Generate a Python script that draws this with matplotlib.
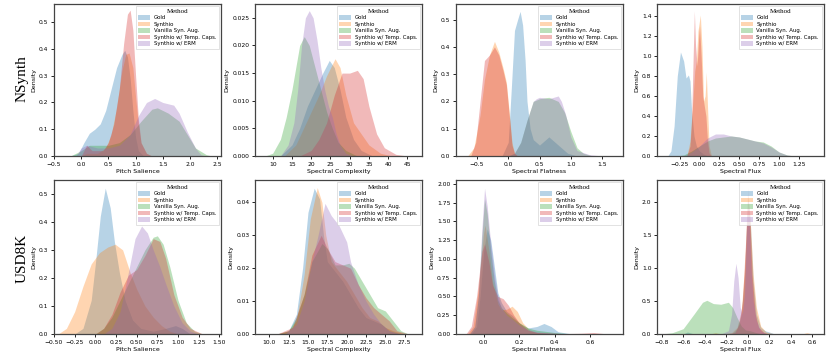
#!/usr/bin/env python3
# -*- coding: utf-8 -*-
"""
KDE density comparison: NSynth / USD8K, four audio features, five methods.
Output: out.png (831x355)
"""

import matplotlib
matplotlib.use("Agg")
import matplotlib.pyplot as plt

METHODS = ["Gold", "Synthio", "Vanilla Syn. Aug.", "Synthio w/ Temp. Caps.", "Synthio w/ ERM"]
COLORS = ["#1f77b4", "#ff7f0e", "#2ca02c", "#d62728", "#9467bd"]
ROW_LABELS = ["NSynth", "USD8K"]
FEATURES = ["Pitch Salience", "Spectral Complexity", "Spectral Flatness", "Spectral Flux"]

# ---- density curves, (x, density) ----
# NSynth / Pitch Salience
NS_PS_GOLD = [(-0.2, 0), (-0.05, 0.01), (0.05, 0.05), (0.15, 0.085), (0.25, 0.10), (0.35, 0.12), (0.45, 0.17),
              (0.55, 0.25), (0.65, 0.33), (0.75, 0.38), (0.8, 0.395), (0.85, 0.37), (0.9, 0.29), (0.95, 0.17),
              (1.0, 0.07), (1.05, 0.02), (1.15, 0)]
NS_PS_SYN = [(0.0, 0), (0.1, 0.01), (0.3, 0.01), (0.45, 0.03), (0.55, 0.08), (0.65, 0.18), (0.75, 0.32),
             (0.82, 0.38), (0.88, 0.385), (0.95, 0.33), (1.0, 0.22), (1.05, 0.12), (1.1, 0.05), (1.2, 0.01), (1.3, 0)]
NS_PS_VAN = [(-0.2, 0), (0.0, 0.02), (0.15, 0.04), (0.3, 0.04), (0.5, 0.04), (0.7, 0.05), (0.9, 0.08),
             (1.1, 0.13), (1.3, 0.175), (1.4, 0.18), (1.6, 0.16), (1.8, 0.13), (1.95, 0.08), (2.1, 0.03),
             (2.3, 0.005), (2.4, 0)]
NS_PS_TMP = [(0.0, 0), (0.1, 0.04), (0.2, 0.02), (0.4, 0.02), (0.5, 0.05), (0.6, 0.12), (0.7, 0.25),
             (0.78, 0.42), (0.85, 0.53), (0.9, 0.545), (0.95, 0.47), (1.0, 0.3), (1.05, 0.14), (1.1, 0.05),
             (1.2, 0.01), (1.3, 0)]
NS_PS_ERM = [(-0.1, 0), (0.0, 0.03), (0.1, 0.04), (0.3, 0.03), (0.5, 0.03), (0.7, 0.04), (0.9, 0.08),
             (1.05, 0.15), (1.2, 0.2), (1.35, 0.215), (1.5, 0.2), (1.7, 0.19), (1.8, 0.16), (1.95, 0.09),
             (2.1, 0.03), (2.2, 0.005), (2.3, 0)]

# NSynth / Spectral Complexity
NS_SC_GOLD = [(12, 0), (15, 0.002), (17, 0.005), (19, 0.009), (21, 0.012), (23, 0.015), (24.7, 0.0173),
              (26, 0.016), (27.5, 0.012), (29, 0.007), (31, 0.003), (33, 0.001), (36, 0)]
NS_SC_SYN = [(13, 0), (16, 0.002), (18, 0.005), (20, 0.008), (22, 0.011), (24, 0.0145), (26.2, 0.0176),
             (27.5, 0.016), (29, 0.011), (31, 0.006), (33, 0.004), (35, 0.002), (38, 0.0005), (41, 0)]
NS_SC_VAN = [(8, 0), (10, 0.0005), (12, 0.003), (13.5, 0.007), (15, 0.012), (16, 0.016), (17, 0.02),
             (18.2, 0.0216), (19.5, 0.02), (21, 0.016), (22.5, 0.012), (24, 0.008), (25.5, 0.005),
             (27, 0.0025), (29, 0.001), (32, 0)]
NS_SC_TMP = [(17, 0), (20, 0.001), (22, 0.003), (24, 0.006), (26, 0.011), (28, 0.015), (30, 0.015),
             (32, 0.0155), (33.5, 0.014), (35, 0.009), (37, 0.004), (39, 0.0015), (42, 0.0003), (45, 0)]
NS_SC_ERM = [(12, 0), (14, 0.002), (15.5, 0.006), (16.5, 0.012), (17.5, 0.02), (18.5, 0.025), (19.5, 0.0263),
             (20.5, 0.025), (21.5, 0.021), (22.5, 0.016), (23.5, 0.012), (24.5, 0.009), (25.5, 0.007),
             (26.5, 0.004), (27.5, 0.002), (29, 0.0005), (31, 0)]

# NSynth / Spectral Flatness
NS_SF_GOLD = [(-0.1, 0), (0.0, 0.05), (0.05, 0.25), (0.1, 0.46), (0.15, 0.5), (0.19, 0.53), (0.23, 0.48),
              (0.27, 0.35), (0.3, 0.2), (0.35, 0.1), (0.4, 0.06), (0.5, 0.04), (0.6, 0.06), (0.65, 0.07),
              (0.75, 0.05), (0.85, 0.03), (0.95, 0.01), (1.1, 0)]
NS_SF_SYN = [(-0.65, 0), (-0.55, 0.03), (-0.45, 0.15), (-0.38, 0.28), (-0.3, 0.37), (-0.22, 0.42),
             (-0.15, 0.38), (-0.08, 0.32), (-0.03, 0.27), (0.02, 0.15), (0.06, 0.05), (0.1, 0.01), (0.15, 0)]
NS_SF_VAN = [(0.0, 0), (0.1, 0.01), (0.2, 0.05), (0.3, 0.13), (0.4, 0.2), (0.5, 0.21), (0.65, 0.215),
             (0.8, 0.2), (0.9, 0.16), (1.0, 0.09), (1.1, 0.03), (1.2, 0.01), (1.35, 0)]
NS_SF_TMP = [(-0.6, 0), (-0.52, 0.05), (-0.45, 0.2), (-0.38, 0.35), (-0.3, 0.37), (-0.22, 0.40),
             (-0.15, 0.37), (-0.08, 0.31), (-0.03, 0.26), (0.02, 0.14), (0.06, 0.04), (0.1, 0.01), (0.15, 0)]
NS_SF_ERM = [(0.0, 0), (0.1, 0.01), (0.2, 0.05), (0.3, 0.13), (0.4, 0.2), (0.45, 0.21), (0.5, 0.215),
             (0.65, 0.21), (0.8, 0.22), (0.85, 0.2), (0.92, 0.15), (1.0, 0.07), (1.1, 0.02), (1.3, 0.005), (1.5, 0)]

# NSynth / Spectral Flux
NS_FX_GOLD = [(-0.4, 0), (-0.36, 0.05), (-0.32, 0.3), (-0.28, 0.8), (-0.24, 1.04), (-0.2, 0.95),
              (-0.17, 0.78), (-0.14, 0.81), (-0.12, 0.75), (-0.1, 0.45), (-0.07, 0.2), (-0.04, 0.1),
              (0.0, 0.05), (0.05, 0.02), (0.1, 0)]
NS_FX_SYN = [(-0.16, 0), (-0.12, 0.15), (-0.08, 0.6), (-0.06, 0.85), (-0.04, 0.95), (-0.02, 1.25),
             (0.01, 1.41), (0.03, 1.1), (0.05, 0.55), (0.07, 0.6), (0.085, 0.84), (0.1, 0.5), (0.12, 0.1), (0.15, 0)]
NS_FX_VAN = [(-0.3, 0), (-0.2, 0.01), (-0.1, 0.05), (0.0, 0.1), (0.1, 0.15), (0.2, 0.18), (0.3, 0.19),
             (0.4, 0.2), (0.5, 0.19), (0.6, 0.17), (0.7, 0.15), (0.8, 0.14), (0.9, 0.1), (1.0, 0.04),
             (1.1, 0.01), (1.2, 0)]
NS_FX_TMP = [(-0.16, 0), (-0.12, 0.1), (-0.1, 0.35), (-0.08, 1.0), (-0.065, 1.45), (-0.05, 1.1),
             (-0.03, 0.9), (-0.01, 1.2), (0.0, 1.3), (0.02, 1.0), (0.04, 0.6), (0.06, 0.5), (0.08, 0.4),
             (0.1, 0.15), (0.12, 0.03), (0.15, 0)]
NS_FX_ERM = [(-0.2, 0), (-0.1, 0.04), (0.0, 0.1), (0.1, 0.18), (0.2, 0.22), (0.3, 0.22), (0.4, 0.2),
             (0.5, 0.19), (0.6, 0.17), (0.7, 0.15), (0.8, 0.13), (0.9, 0.09), (1.0, 0.04), (1.1, 0.01), (1.2, 0)]

# USD8K / Pitch Salience
US_PS_GOLD = [(-0.25, 0), (-0.15, 0.02), (-0.05, 0.12), (0.0, 0.25), (0.06, 0.42), (0.12, 0.52),
              (0.18, 0.45), (0.23, 0.33), (0.29, 0.22), (0.36, 0.12), (0.45, 0.05), (0.55, 0.02),
              (0.7, 0.01), (0.85, 0.02), (0.97, 0.03), (1.05, 0.02), (1.15, 0)]
US_PS_SYN = [(-0.45, 0), (-0.35, 0.02), (-0.25, 0.08), (-0.15, 0.17), (-0.05, 0.25), (0.05, 0.29),
             (0.15, 0.31), (0.24, 0.32), (0.33, 0.3), (0.42, 0.22), (0.5, 0.16), (0.6, 0.1), (0.7, 0.06),
             (0.8, 0.03), (0.9, 0.01), (1.0, 0)]
US_PS_VAN = [(0.0, 0), (0.1, 0.02), (0.2, 0.06), (0.3, 0.12), (0.4, 0.18), (0.5, 0.24), (0.6, 0.3),
             (0.7, 0.345), (0.75, 0.35), (0.82, 0.32), (0.9, 0.24), (1.0, 0.12), (1.1, 0.04), (1.2, 0.01), (1.3, 0)]
US_PS_TMP = [(0.0, 0), (0.1, 0.02), (0.2, 0.07), (0.3, 0.15), (0.4, 0.21), (0.5, 0.23), (0.6, 0.28),
             (0.7, 0.34), (0.78, 0.33), (0.85, 0.27), (0.95, 0.14), (1.05, 0.06), (1.15, 0.02), (1.3, 0)]
US_PS_ERM = [(0.1, 0), (0.2, 0.02), (0.3, 0.08), (0.4, 0.22), (0.48, 0.34), (0.56, 0.385), (0.63, 0.36),
             (0.7, 0.3), (0.78, 0.24), (0.85, 0.18), (0.95, 0.1), (1.05, 0.04), (1.15, 0.01), (1.25, 0)]

# USD8K / Spectral Complexity
US_SC_GOLD = [(11, 0), (12.5, 0.001), (13.5, 0.006), (14.3, 0.02), (15, 0.037), (15.8, 0.0443),
              (16.5, 0.041), (17, 0.03), (17.5, 0.022), (18.5, 0.019), (19.5, 0.016), (20.5, 0.012),
              (21.5, 0.008), (22.5, 0.005), (23.5, 0.004), (24.5, 0.003), (25.5, 0.001), (27, 0)]
US_SC_SYN = [(11, 0), (12.5, 0.001), (13.5, 0.004), (14.5, 0.018), (15.3, 0.035), (16.2, 0.0445),
             (16.8, 0.04), (17.3, 0.03), (18, 0.022), (19, 0.019), (20, 0.016), (21, 0.012), (22, 0.008),
             (23, 0.005), (24, 0.004), (25, 0.002), (26, 0.001), (27.5, 0)]
US_SC_VAN = [(11, 0), (12.5, 0.001), (13.5, 0.005), (14.5, 0.012), (15.5, 0.022), (16.8, 0.0275),
             (17.5, 0.026), (18.5, 0.021), (19.5, 0.021), (20.3, 0.0215), (21, 0.02), (22, 0.016),
             (23, 0.012), (24, 0.008), (25, 0.007), (26, 0.004), (27, 0.001), (28, 0)]
US_SC_TMP = [(11, 0), (13, 0.002), (14.5, 0.012), (15.5, 0.024), (16.7, 0.03), (17.5, 0.026),
             (18.5, 0.022), (19.5, 0.021), (20.5, 0.02), (21.5, 0.015), (22.5, 0.011), (23.5, 0.008),
             (24.5, 0.006), (25.5, 0.004), (26.5, 0.001), (28, 0)]
US_SC_ERM = [(12, 0), (13.5, 0.003), (14.5, 0.01), (15.5, 0.022), (16.3, 0.03), (17.2, 0.0397),
             (18, 0.036), (19, 0.033), (20, 0.028), (20.5, 0.022), (21.5, 0.015), (22.5, 0.01),
             (23.5, 0.006), (24.5, 0.003), (25.5, 0.001), (27, 0)]

# USD8K / Spectral Flatness
US_SF_GOLD = [(-0.07, 0), (-0.04, 0.1), (-0.02, 0.5), (0.0, 1.1), (0.02, 1.4), (0.04, 1.25), (0.06, 0.9),
              (0.08, 0.55), (0.1, 0.42), (0.13, 0.3), (0.16, 0.25), (0.2, 0.15), (0.25, 0.08), (0.3, 0.1),
              (0.34, 0.14), (0.38, 0.1), (0.42, 0.03), (0.5, 0)]
US_SF_SYN = [(-0.09, 0), (-0.06, 0.1), (-0.03, 0.6), (0.0, 1.35), (0.008, 1.45), (0.03, 1.1), (0.05, 0.7),
             (0.08, 0.4), (0.1, 0.32), (0.13, 0.33), (0.16, 0.37), (0.19, 0.3), (0.22, 0.15), (0.26, 0.05),
             (0.3, 0.02), (0.4, 0.005), (0.5, 0)]
US_SF_VAN = [(-0.08, 0), (-0.05, 0.1), (-0.03, 0.5), (-0.01, 1.3), (0.005, 1.8), (0.02, 1.6), (0.04, 1.1),
             (0.06, 0.7), (0.08, 0.45), (0.1, 0.35), (0.13, 0.28), (0.16, 0.22), (0.2, 0.15), (0.25, 0.08),
             (0.3, 0.05), (0.4, 0.02), (0.5, 0)]
US_SF_TMP = [(-0.1, 0), (-0.07, 0.1), (-0.04, 0.5), (-0.01, 1.1), (0.005, 1.2), (0.03, 0.95), (0.05, 0.65),
             (0.08, 0.5), (0.11, 0.47), (0.14, 0.38), (0.17, 0.25), (0.2, 0.15), (0.25, 0.05), (0.3, 0.02),
             (0.45, 0.005), (0.55, 0.01), (0.62, 0.02), (0.7, 0)]
US_SF_ERM = [(-0.08, 0), (-0.05, 0.1), (-0.03, 0.5), (-0.01, 1.4), (0.005, 1.94), (0.02, 1.7), (0.04, 1.2),
             (0.06, 0.8), (0.08, 0.5), (0.1, 0.35), (0.13, 0.25), (0.16, 0.2), (0.2, 0.12), (0.25, 0.06),
             (0.3, 0.03), (0.4, 0.01), (0.5, 0)]

# USD8K / Spectral Flux
US_FX_GOLD = [(-0.6, 0), (-0.56, 0.03), (-0.5, 0), (-0.15, 0), (-0.1, 0.08), (-0.06, 0.3), (-0.03, 0.9),
              (0.0, 2.1), (0.02, 1.8), (0.05, 0.8), (0.08, 0.3), (0.12, 0.1), (0.16, 0.05), (0.2, 0.03), (0.25, 0)]
US_FX_SYN = [(-0.35, 0), (-0.3, 0.02), (-0.25, 0), (-0.15, 0.02), (-0.1, 0.1), (-0.06, 0.35), (-0.03, 1.0),
             (0.0, 2.05), (0.02, 1.8), (0.05, 0.9), (0.08, 0.4), (0.12, 0.12), (0.17, 0.03), (0.25, 0),
             (0.5, 0), (0.55, 0.02), (0.6, 0)]
US_FX_VAN = [(-0.8, 0), (-0.7, 0.02), (-0.6, 0.08), (-0.5, 0.3), (-0.42, 0.48), (-0.38, 0.51),
             (-0.32, 0.46), (-0.25, 0.45), (-0.18, 0.48), (-0.14, 0.4), (-0.1, 0.25), (-0.06, 0.12),
             (-0.02, 0.06), (0.02, 0.05), (0.06, 0.03), (0.1, 0.01), (0.15, 0)]
US_FX_TMP = [(-0.2, 0), (-0.12, 0.02), (-0.08, 0.15), (-0.05, 0.5), (-0.02, 1.4), (0.0, 2.21), (0.02, 1.7),
             (0.04, 0.9), (0.07, 0.3), (0.1, 0.1), (0.15, 0.02), (0.2, 0)]
US_FX_ERM = [(-0.25, 0), (-0.18, 0.05), (-0.15, 0.3), (-0.13, 0.8), (-0.11, 1.07), (-0.09, 0.85),
             (-0.07, 0.4), (-0.05, 0.3), (-0.03, 0.6), (-0.01, 1.6), (0.0, 2.0), (0.01, 1.9), (0.03, 1.0),
             (0.05, 0.5), (0.08, 0.2), (0.12, 0.05), (0.18, 0)]

PANELS = [
    [NS_PS_GOLD, NS_PS_SYN, NS_PS_VAN, NS_PS_TMP, NS_PS_ERM],
    [NS_SC_GOLD, NS_SC_SYN, NS_SC_VAN, NS_SC_TMP, NS_SC_ERM],
    [NS_SF_GOLD, NS_SF_SYN, NS_SF_VAN, NS_SF_TMP, NS_SF_ERM],
    [NS_FX_GOLD, NS_FX_SYN, NS_FX_VAN, NS_FX_TMP, NS_FX_ERM],
    [US_PS_GOLD, US_PS_SYN, US_PS_VAN, US_PS_TMP, US_PS_ERM],
    [US_SC_GOLD, US_SC_SYN, US_SC_VAN, US_SC_TMP, US_SC_ERM],
    [US_SF_GOLD, US_SF_SYN, US_SF_VAN, US_SF_TMP, US_SF_ERM],
    [US_FX_GOLD, US_FX_SYN, US_FX_VAN, US_FX_TMP, US_FX_ERM],
]

XLIMS = [(-0.5, 2.57), (5.4, 48.8), (-0.835, 1.835), (-0.535, 1.565),
         (-0.49, 1.52), (8.15, 29.74), (-0.156, 0.786), (-0.843, 0.708)]
YLIMS = [(0, 0.568), (0, 0.0275), (0, 0.557), (0, 1.52),
         (0, 0.549), (0, 0.0468), (0, 2.05), (0, 2.33)]
XTICKS = [[-0.5, 0, 0.5, 1.0, 1.5, 2.0, 2.5], [10, 15, 20, 25, 30, 35, 40, 45],
          [-0.5, 0, 0.5, 1.0, 1.5], [-0.25, 0, 0.25, 0.5, 0.75, 1.0, 1.25],
          [-0.5, -0.25, 0, 0.25, 0.5, 0.75, 1.0, 1.25, 1.5], [10, 12.5, 15, 17.5, 20, 22.5, 25, 27.5],
          [0, 0.2, 0.4, 0.6], [-0.8, -0.6, -0.4, -0.2, 0, 0.2, 0.4, 0.6]]
XFMT = ["{:.1f}", "{:.0f}", "{:.1f}", "{:.2f}", "{:.2f}", "{:.1f}", "{:.1f}", "{:.1f}"]


def main():
    fig = plt.figure(figsize=(8.31, 3.55), dpi=100)
    W, H = 831.0, 355.0
    lefts = [54, 255, 456, 657]
    rows = [(4, 156), (180, 334)]

    for i, curves in enumerate(PANELS):
        r, c = divmod(i, 4)
        top, bot = rows[r]
        ax = fig.add_axes([lefts[c] / W, 1 - bot / H, 167 / W, (bot - top) / H])
        for name, color, pts in zip(METHODS, COLORS, curves):
            xs = [p[0] for p in pts]
            ys = [p[1] for p in pts]
            ax.fill_between(xs, 0, ys, color=color, alpha=0.32, linewidth=0, label=name)
        ax.set_xlim(*XLIMS[i])
        ax.set_ylim(*YLIMS[i])
        ax.set_xticks(XTICKS[i])
        ax.set_xticklabels([XFMT[i].format(t).replace("-", "\u2212") for t in XTICKS[i]])
        ax.tick_params(labelsize=4.3, length=2.5, width=0.6, pad=1.5)
        ax.set_xlabel(FEATURES[c], fontsize=4.5, labelpad=1.5)
        ax.set_ylabel("Density", fontsize=4.5, labelpad=2)
        for s in ax.spines.values():
            s.set_linewidth(0.9)
            s.set_color("#444444")
        leg = ax.legend(loc="upper right", fontsize=3.9, title="Method",
                        frameon=True, fancybox=False, borderpad=0.5, labelspacing=0.25,
                        handlelength=2.2, handleheight=0.9, handletextpad=0.6, borderaxespad=0.4)
        leg.get_title().set_fontfamily("Liberation Serif")
        leg.get_title().set_fontsize(5)
        leg.get_frame().set_linewidth(0.5)
        leg.get_frame().set_edgecolor("#cccccc")

    fig.text(22 / W, 1 - 79 / H, ROW_LABELS[0], rotation=90, ha="center", va="center",
             fontsize=11, family="Liberation Serif")
    fig.text(22 / W, 1 - 258 / H, ROW_LABELS[1], rotation=90, ha="center", va="center",
             fontsize=11, family="Liberation Serif")

    fig.savefig("out.png", dpi=100)
    plt.close(fig)


if __name__ == "__main__":
    main()
